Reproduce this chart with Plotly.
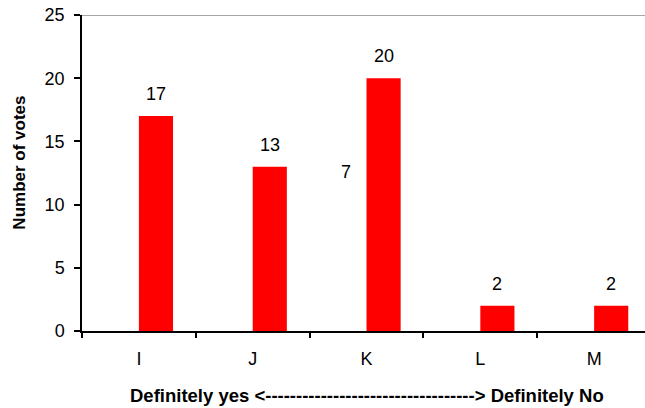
import plotly.graph_objects as go

# Survey responses on a five-point scale
categories = ["I", "J", "K", "L", "M"]
votes = [17, 13, 20, 2, 2]

# Stray value label sitting beside the K column
side_label = "7"
side_label_pos = 12.6

FONT = "Liberation Sans, Arial, sans-serif"

fig = go.Figure()

fig.add_trace(go.Bar(
    x=categories,
    y=votes,
    width=0.3,
    offset=0,
    marker=dict(color="#ff0000", line=dict(width=0)),
    showlegend=False,
    hoverinfo="x+y",
))

# Value labels above each bar
for c, v in zip(categories, votes):
    fig.add_annotation(
        x=c, y=v, xref="x", yref="y",
        text=str(v), showarrow=False,
        xshift=17, yshift=10, yanchor="bottom",
        font=dict(family=FONT, size=18, color="#000"),
    )

fig.add_annotation(
    x="K", y=side_label_pos, xref="x", yref="y",
    text=side_label, showarrow=False, xshift=-21,
    font=dict(family=FONT, size=18, color="#000"),
)

# Axis caption under the category labels
fig.add_annotation(
    x=2, y=-0.205, xref="x", yref="paper",
    text="<b>Definitely yes <" + "-" * 34 + "> Definitely No</b>",
    showarrow=False, yanchor="middle",
    font=dict(family=FONT, size=18.5, color="#000"),
)

# Vertical value-axis title
fig.add_annotation(
    x=-0.110, y=0.533, xref="paper", yref="paper",
    text="<b>Number of votes</b>", textangle=-90,
    showarrow=False, xanchor="center", yanchor="middle",
    font=dict(family=FONT, size=17, color="#000"),
)

# Grey frame line across the top of the plot
fig.add_shape(
    type="line", xref="paper", yref="y",
    x0=0, x1=1, y0=25, y1=25,
    line=dict(color="#888888", width=1.5),
)

fig.update_layout(
    width=645, height=408,
    margin=dict(l=82, r=0, t=15, b=77),
    plot_bgcolor="#ffffff",
    paper_bgcolor="#ffffff",
    bargap=0.4,
    font=dict(family=FONT, color="#000"),
    xaxis=dict(
        type="category",
        range=[-0.5, 4.447],
        showline=True, linecolor="#000", linewidth=1.5,
        ticks="outside", ticklen=5, tickcolor="#000", tickwidth=1.5,
        tickson="boundaries",
        ticklabelstandoff=11,
        tickfont=dict(family=FONT, size=18, color="#000"),
        showgrid=False, zeroline=False,
    ),
    yaxis=dict(
        range=[0, 25],
        tickvals=[0, 5, 10, 15, 20, 25],
        showline=True, linecolor="#000", linewidth=1.5,
        ticks="outside", ticklen=6, tickcolor="#000", tickwidth=1.5,
        ticklabelstandoff=6,
        tickfont=dict(family=FONT, size=18, color="#000"),
        showgrid=False, zeroline=False,
    ),
)

fig.write_html("out.html")
